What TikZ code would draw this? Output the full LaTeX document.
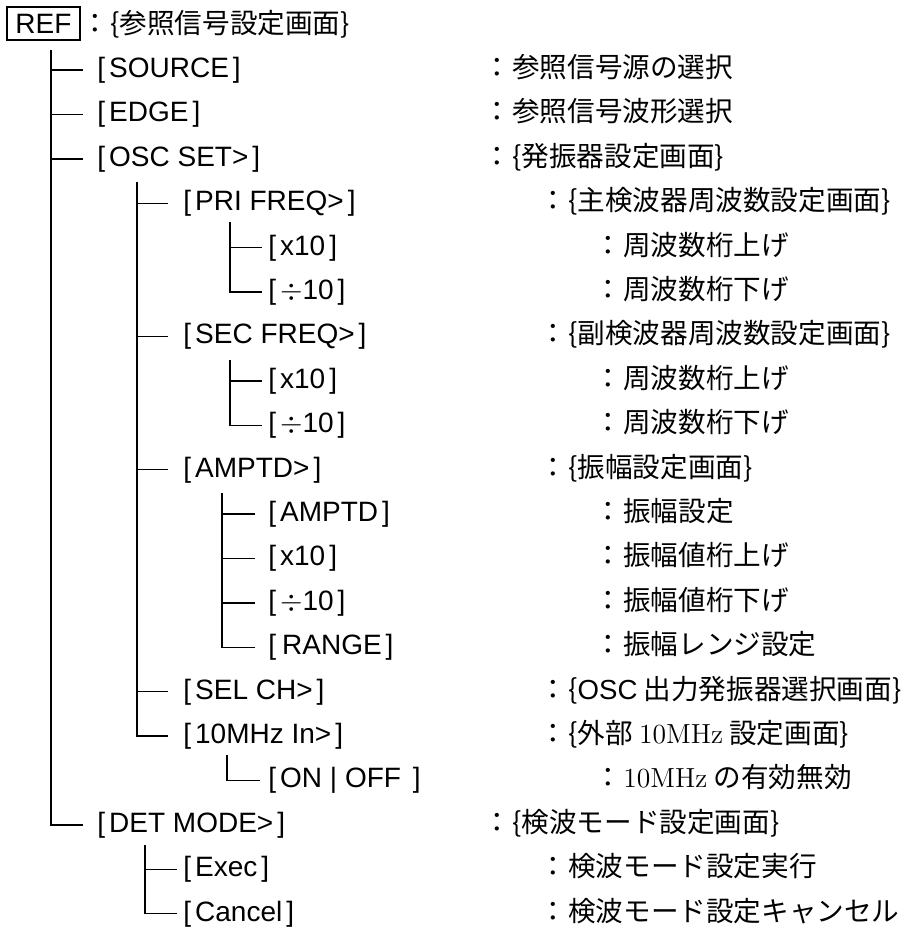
\documentclass[tikz,border=0pt]{standalone}
\usepackage{fontspec}
\setsansfont{Liberation Sans}
\newfontfamily\cjk{Noto Sans CJK JP}
\newcommand{\softkey}[1]{[\kern2pt#1\kern2pt]}
\newcommand{\expl}[1]{\makebox[15pt][c]{：}#1}

\begin{document}
\begin{tikzpicture}[x=1pt, y=-1pt,
    keylbl/.style={anchor=base west, inner sep=0pt, font=\sffamily\fontsize{14}{16}\selectfont},
    notelbl/.style={anchor=base west, inner sep=0pt, font=\cjk\fontsize{13.8}{16}\selectfont},
    tree/.style={line width=0.7pt}]
    \useasboundingbox (0,0) rectangle (457,463.5);

    % Nodes
    \node[draw, line width=1pt, minimum width=36.5pt, minimum height=16.5pt, inner sep=0pt,
        font=\sffamily\fontsize{14}{16}\selectfont] (Ref) at (21.75,11.75) {REF};
    \node[notelbl] (RefD) at (40,16.5) {\expl{\{参照信号設定画面\}}};

    \node[keylbl] (Source) at (48.5,38.7) {\softkey{SOURCE}};
    \node[notelbl] (SourceD) at (241,38.7) {\expl{参照信号源の選択}};
    \node[keylbl] (Edge) at (48.5,60.9) {\softkey{EDGE}};
    \node[notelbl] (EdgeD) at (241,60.9) {\expl{参照信号波形選択}};
    \node[keylbl] (OscSet) at (48.5,83.1) {\softkey{OSC SET>}};
    \node[notelbl] (OscSetD) at (241,83.1) {\expl{\{発振器設定画面\}}};

    \node[keylbl] (PriFreq) at (91.5,105.3) {\softkey{PRI FREQ>}};
    \node[notelbl] (PriFreqD) at (269,105.3) {\expl{\{主検波器周波数設定画面\}}};
    \node[keylbl] (PriUp) at (134,127.5) {\softkey{x10}};
    \node[notelbl] (PriUpD) at (296.5,127.5) {\expl{周波数桁上げ}};
    \node[keylbl] (PriDown) at (134,149.7) {\softkey{$\div$10}};
    \node[notelbl] (PriDownD) at (296.5,149.7) {\expl{周波数桁下げ}};

    \node[keylbl] (SecFreq) at (91.5,171.9) {\softkey{SEC FREQ>}};
    \node[notelbl] (SecFreqD) at (269,171.9) {\expl{\{副検波器周波数設定画面\}}};
    \node[keylbl] (SecUp) at (134,194.1) {\softkey{x10}};
    \node[notelbl] (SecUpD) at (296.5,194.1) {\expl{周波数桁上げ}};
    \node[keylbl] (SecDown) at (134,216.3) {\softkey{$\div$10}};
    \node[notelbl] (SecDownD) at (296.5,216.3) {\expl{周波数桁下げ}};

    \node[keylbl] (Amptd) at (91.5,238.5) {\softkey{AMPTD>}};
    \node[notelbl] (AmptdD) at (269,238.5) {\expl{\{振幅設定画面\}}};
    \node[keylbl] (AmpSet) at (134,260.7) {\softkey{AMPTD}};
    \node[notelbl] (AmpSetD) at (296.5,260.7) {\expl{振幅設定}};
    \node[keylbl] (AmpUp) at (134,282.9) {\softkey{x10}};
    \node[notelbl] (AmpUpD) at (296.5,282.9) {\expl{振幅値桁上げ}};
    \node[keylbl] (AmpDown) at (134,305.1) {\softkey{$\div$10}};
    \node[notelbl] (AmpDownD) at (296.5,305.1) {\expl{振幅値桁下げ}};
    \node[keylbl] (AmpRange) at (134,327.3) {\softkey{\kern1pt RANGE}};
    \node[notelbl] (AmpRangeD) at (296.5,327.3) {\expl{振幅レンジ設定}};

    \node[keylbl] (SelCh) at (91.5,349.5) {\softkey{SEL CH>}};
    \node[notelbl] (SelChD) at (269,349.5) {\expl{\{{\sffamily OSC} 出力発振器選択画面\}}};
    \node[keylbl] (TenMHz) at (91.5,371.7) {\softkey{10MHz In>}};
    \node[notelbl] (TenMHzD) at (269,371.7) {\expl{\{外部 {\rmfamily 10MHz} 設定画面\}}};
    \node[keylbl] (TenOnOff) at (134,393.9) {\softkey{ON | OFF }};
    \node[notelbl] (TenOnOffD) at (296.5,393.9) {\expl{{\rmfamily 10MHz} の有効無効}};

    \node[keylbl] (DetMode) at (48.5,416.1) {\softkey{DET MODE>}};
    \node[notelbl] (DetModeD) at (241,416.1) {\expl{\{検波モード設定画面\}}};
    \node[keylbl] (DetExec) at (91.5,438.3) {\softkey{Exec}};
    \node[notelbl] (DetExecD) at (269,438.3) {\expl{検波モード設定実行}};
    \node[keylbl] (DetCancel) at (91.5,460.5) {\softkey{Cancel}};
    \node[notelbl] (DetCancelD) at (269,460.5) {\expl{検波モード設定キャンセル}};

    % Tree lines (trunk tops)
    \coordinate (RefTop) at (25.5,25);
    \coordinate (OscTop) at (68.5,91);
    \coordinate (PriTop) at (115,111);
    \coordinate (SecTop) at (115,180);
    \coordinate (AmpTop) at (111,246.5);
    \coordinate (TenTop) at (113.5,377.5);
    \coordinate (DetTop) at (72.5,422.5);

    \draw[tree, shorten >=7pt] (RefTop) |- (Source.west);
    \draw[tree, shorten >=7pt] (RefTop) |- (Edge.west);
    \draw[tree, shorten >=7pt] (RefTop) |- (OscSet.west);
    \draw[tree, shorten >=7pt] (RefTop) |- (DetMode.west);

    \draw[tree, shorten >=7.5pt] (OscTop) |- (PriFreq.west);
    \draw[tree, shorten >=7.5pt] (OscTop) |- (SecFreq.west);
    \draw[tree, shorten >=7.5pt] (OscTop) |- (Amptd.west);
    \draw[tree, shorten >=7.5pt] (OscTop) |- (SelCh.west);
    \draw[tree, shorten >=7.5pt] (OscTop) |- (TenMHz.west);

    \draw[tree, shorten >=3pt] (PriTop) |- (PriUp.west);
    \draw[tree, shorten >=3pt] (PriTop) |- (PriDown.west);
    \draw[tree, shorten >=3pt] (SecTop) |- (SecUp.west);
    \draw[tree, shorten >=3pt] (SecTop) |- (SecDown.west);

    \draw[tree, shorten >=6.5pt] (AmpTop) |- (AmpSet.west);
    \draw[tree, shorten >=6.5pt] (AmpTop) |- (AmpUp.west);
    \draw[tree, shorten >=6.5pt] (AmpTop) |- (AmpDown.west);
    \draw[tree, shorten >=6.5pt] (AmpTop) |- (AmpRange.west);

    \draw[tree, shorten >=4pt] (TenTop) |- (TenOnOff.west);

    \draw[tree, shorten >=3pt] (DetTop) |- (DetExec.west);
    \draw[tree, shorten >=3pt] (DetTop) |- (DetCancel.west);

\end{tikzpicture}
\end{document}
